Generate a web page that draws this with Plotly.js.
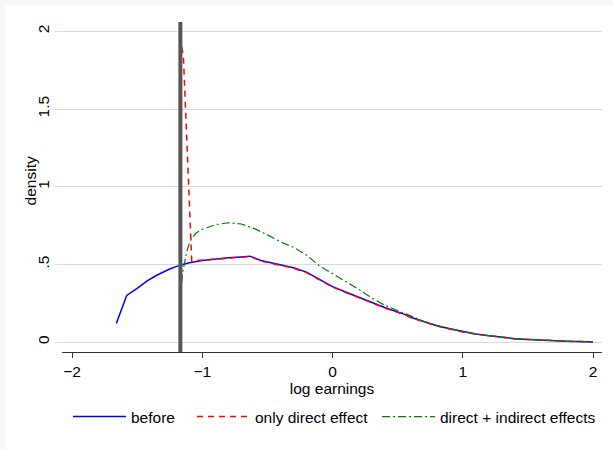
<!DOCTYPE html>
<html>
<head>
<meta charset="utf-8">
<script src="https://cdn.plot.ly/plotly-3.0.1.min.js"></script>
<style>html,body{margin:0;padding:0;background:#f7f7f7;}#chart{width:613px;height:449px;}</style>
</head>
<body>
<div id="chart"></div>
<script>
// "before" density
var beforeX = [-1.66, -1.58, -1.50, -1.42, -1.35, -1.25, -1.17, -1.10, -1.00, -0.90, -0.80, -0.70, -0.634, -0.55, -0.45, -0.35, -0.30, -0.20, -0.10, 0.00, 0.10, 0.20, 0.30, 0.40, 0.50, 0.55, 0.60, 0.70, 0.80, 0.90, 1.00, 1.10, 1.20, 1.30, 1.40, 1.50, 1.60, 1.70, 1.80, 1.90, 2.00];
var beforeY = [0.12, 0.30, 0.345, 0.395, 0.43, 0.47, 0.495, 0.51, 0.525, 0.535, 0.542, 0.548, 0.553, 0.525, 0.505, 0.488, 0.478, 0.45, 0.405, 0.357, 0.322, 0.288, 0.257, 0.222, 0.193, 0.18, 0.16, 0.13, 0.105, 0.085, 0.066, 0.052, 0.040, 0.030, 0.022, 0.017, 0.012, 0.008, 0.005, 0.003, 0.001];
// "only direct effect" density
var directX = [-1.158, -1.145, -1.081, -1.00, -0.90, -0.80, -0.70, -0.634, -0.55, -0.45, -0.35, -0.30, -0.20, -0.10, 0.00, 0.10, 0.20, 0.30, 0.40, 0.50, 0.55, 0.60, 0.70, 0.80, 0.90, 1.00, 1.10, 1.20, 1.30, 1.40, 1.50, 1.60, 1.70, 1.80, 1.90, 2.00];
var directY = [1.90, 1.84, 0.522, 0.525, 0.533, 0.54, 0.546, 0.551, 0.522, 0.502, 0.485, 0.475, 0.447, 0.402, 0.354, 0.32, 0.286, 0.255, 0.22, 0.191, 0.178, 0.158, 0.129, 0.104, 0.084, 0.065, 0.051, 0.040, 0.030, 0.022, 0.017, 0.012, 0.008, 0.005, 0.003, 0.001];
// "direct + indirect effects" density
var indirectX = [-1.17, -1.15, -1.12, -1.094, -1.05, -1.00, -0.90, -0.80, -0.70, -0.60, -0.50, -0.40, -0.30, -0.20, -0.10, 0.00, 0.10, 0.20, 0.30, 0.40, 0.50, 0.60, 0.70, 0.80, 0.90, 1.00, 1.10, 1.20, 1.30, 1.40, 1.50, 1.60, 1.70, 1.80, 1.90, 2.00];
var indirectY = [0.28, 0.45, 0.58, 0.65, 0.70, 0.725, 0.755, 0.768, 0.76, 0.73, 0.69, 0.645, 0.61, 0.56, 0.49, 0.44, 0.395, 0.34, 0.285, 0.237, 0.203, 0.168, 0.134, 0.107, 0.086, 0.067, 0.052, 0.040, 0.030, 0.022, 0.017, 0.012, 0.008, 0.005, 0.003, 0.001];
var cutoff = -1.168;
var xTicks = [-2, -1, 0, 1, 2];
var yTicks = [0, 0.5, 1, 1.5, 2];
var yTickText = ["0", ".5", "1", "1.5", "2"];
var seriesNames = ["before", "only direct effect", "direct + indirect effects"];
var xTitle = "log earnings";
var yTitle = "density";

var FONT = "Liberation Sans, Arial, Helvetica, sans-serif";
var FS = 15.5;
var traces = [
  {x: beforeX, y: beforeY, name: seriesNames[0], type: "scatter", mode: "lines", legend: "legend",
   line: {color: "#0000ff", width: 1.5}},
  {x: directX, y: directY, name: seriesNames[1], type: "scatter", mode: "lines", legend: "legend2",
   line: {color: "#ff0000", width: 1.5, dash: "6px,5px"}},
  {x: indirectX, y: indirectY, name: seriesNames[2], type: "scatter", mode: "lines", legend: "legend3",
   line: {color: "#008000", width: 1.2, dash: "8px,3px,2px,3px"}}
];
function leg(px) {
  return {orientation: "h", x: (px - 62) / 540, xanchor: "left", y: -0.197, yanchor: "middle",
          itemwidth: 53, font: {family: FONT, size: FS, color: "#000"},
          bgcolor: "rgba(0,0,0,0)", borderwidth: 0};
}
var layout = {
  width: 613, height: 449,
  margin: {l: 62, r: 11, t: 22, b: 97, pad: 0},
  paper_bgcolor: "#f7f7f7",
  plot_bgcolor: "#ffffff",
  font: {family: FONT, size: FS, color: "#000"},
  showlegend: true,
  legend: leg(68),
  legend2: leg(192),
  legend3: leg(377),
  xaxis: {range: [-2.077, 2.069], tickvals: xTicks, ticks: "outside", ticklen: 5,
          tickcolor: "#333", showline: true, linecolor: "#333", linewidth: 1,
          showgrid: false, zeroline: false,
          title: {text: xTitle, font: {size: FS}, standoff: 0},
          tickfont: {size: FS}},
  yaxis: {range: [-0.064, 2.06], tickvals: yTicks, ticktext: yTickText, tickangle: -90,
          ticks: "outside", ticklen: 6, tickcolor: "#dadada", showline: false,
          showgrid: true, gridcolor: "#dadada", gridwidth: 1, zeroline: false,
          tickfont: {size: FS}},
  annotations: [
    {text: yTitle, xref: "paper", yref: "paper", x: (30 - 62) / 540, y: 0.517,
     xanchor: "center", yanchor: "middle", textangle: -90, showarrow: false,
     font: {family: FONT, size: FS, color: "#000"}}
  ],
  shapes: [
    {type: "rect", xref: "paper", yref: "paper", x0: -0.105, x1: 1.03, y0: -0.3, y1: 1.0506,
     fillcolor: "#ffffff", line: {width: 0}, layer: "below"},
    {type: "line", xref: "x", yref: "paper", x0: cutoff, x1: cutoff, y0: 0, y1: 1,
     line: {color: "#555555", width: 4}, layer: "above"}
  ]
};
Plotly.newPlot("chart", traces, layout, {displayModeBar: false, staticPlot: true});
</script>
</body>
</html>
